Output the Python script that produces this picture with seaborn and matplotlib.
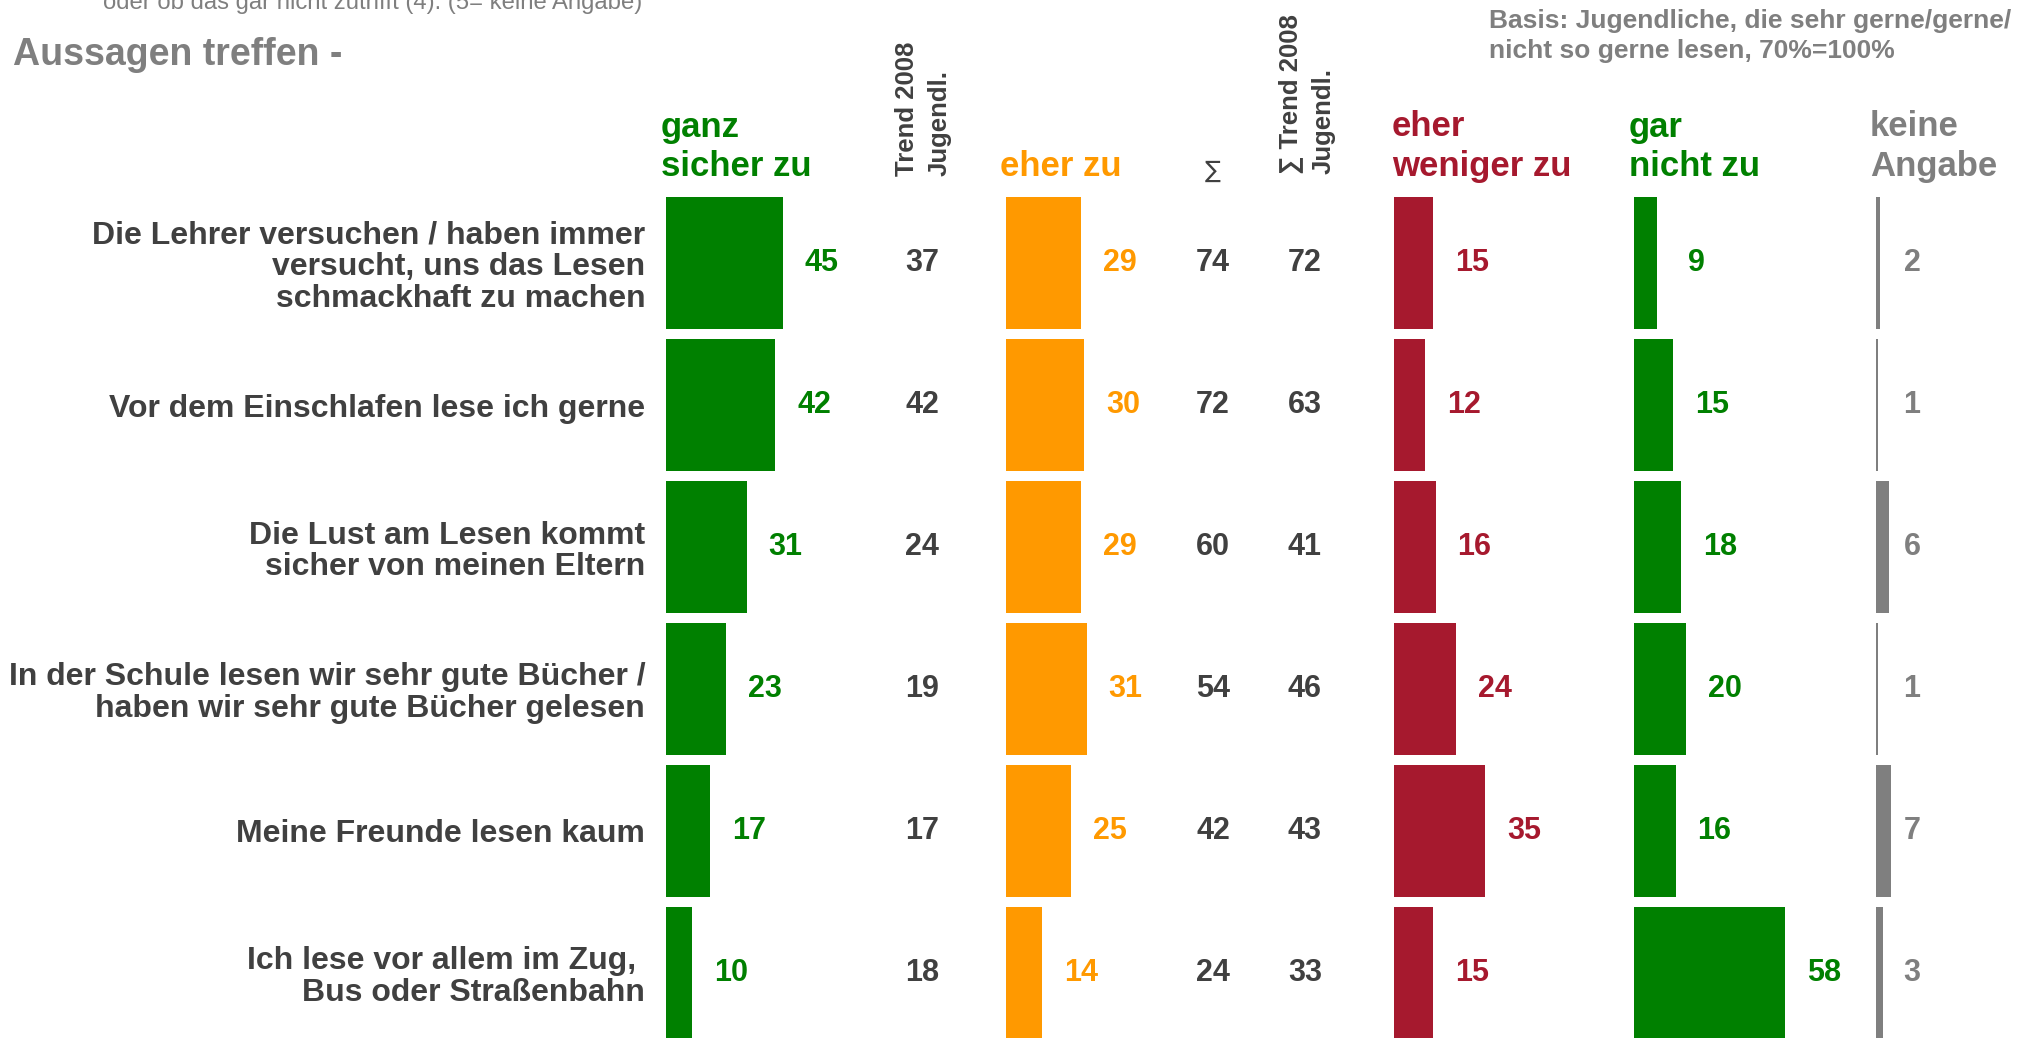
import pandas as pd
import seaborn as sns
import matplotlib.pyplot as plt

# statements (row labels, top to bottom)
aussagen = [
    'Die Lehrer versuchen / haben immer\nversucht, uns das Lesen\nschmackhaft zu machen',
    'Vor dem Einschlafen lese ich gerne',
    'Die Lust am Lesen kommt\nsicher von meinen Eltern',
    'In der Schule lesen wir sehr gute Bücher /\nhaben wir sehr gute Bücher gelesen',
    'Meine Freunde lesen kaum',
    'Ich lese vor allem im Zug, \nBus oder Straßenbahn',
]

ganz_sicher = [45, 42, 31, 23, 17, 10]
trend_ganz = [37, 42, 24, 19, 17, 18]
eher_zu = [29, 30, 29, 31, 25, 14]
summe = [74, 72, 60, 54, 42, 24]
trend_summe = [72, 63, 41, 46, 43, 33]
eher_weniger = [15, 12, 16, 24, 35, 15]
gar_nicht = [9, 15, 18, 20, 16, 58]
keine_angabe = [2, 1, 6, 1, 7, 3]

GREEN = '#008000'
ORANGE = '#FF9900'
RED = '#A6192E'
GREY = '#7F7F7F'
DARK = '#404040'

W, H = 2022, 1038
sns.set_style('white')
plt.rcParams['font.family'] = ['Liberation Sans', 'DejaVu Sans']

df = pd.DataFrame({
    'aussage': aussagen,
    'ganz': ganz_sicher,
    'eher': eher_zu,
    'weniger': eher_weniger,
    'gar': gar_nicht,
    'keine': keine_angabe,
})

fig = plt.figure(figsize=(W / 100, H / 100), dpi=100)

# row slots: 142 px pitch, first slot starts at 192 px from top
slot_top = 192
slot_bot = slot_top + 6 * 142
ax_bottom = 1 - slot_bot / H
ax_height = (slot_bot - slot_top) / H


def bar_column(x_px, width_px, col, color, scale=2.6, labels=True):
    ax = fig.add_axes([x_px / W, ax_bottom, width_px / W, ax_height])
    sns.barplot(data=df, x=col, y='aussage', orient='h', color=color,
                saturation=1, width=0.93, errorbar=None, linewidth=0, ax=ax)
    ax.set_xlim(0, width_px / scale)
    ax.set_ylim(5.5, -0.5)
    sns.despine(ax=ax, left=True, bottom=True)
    ax.set_xlabel('')
    ax.set_ylabel('')
    ax.set_xticks([])
    ax.tick_params(axis='y', length=0)
    ax.patch.set_alpha(0)
    if labels:
        for i, v in enumerate(df[col]):
            ax.annotate(str(v), (v, i), xytext=(28, 0), textcoords='offset points',
                        ha='center', va='center', color=color,
                        fontsize=22, fontweight='bold')
    return ax


ax1 = bar_column(666, 300, 'ganz', GREEN)
ax1.tick_params(axis='y', pad=15)
for lbl in ax1.get_yticklabels():
    lbl.set_fontsize(23)
    lbl.set_fontweight('bold')
    lbl.set_color(DARK)
    lbl.set_linespacing(1.08)

for x0, col, c in [(1006, 'eher', ORANGE), (1394, 'weniger', RED), (1634, 'gar', GREEN)]:
    a = bar_column(x0, 300, col, c)
    a.set_yticklabels([])

ax5 = bar_column(1876, 140, 'keine', GREY, scale=2.2, labels=False)
ax5.set_yticklabels([])

# overlay for the plain number columns
axt = fig.add_axes([0, ax_bottom, 1, ax_height])
axt.set_xlim(0, W)
axt.set_ylim(5.5, -0.5)
axt.axis('off')
for i in range(6):
    axt.text(922, i, str(trend_ganz[i]), ha='center', va='center', color=DARK,
             fontsize=22, fontweight='bold')
    axt.text(1213, i, str(summe[i]), ha='center', va='center', color=DARK,
             fontsize=22, fontweight='bold')
    axt.text(1305, i, str(trend_summe[i]), ha='center', va='center', color=DARK,
             fontsize=22, fontweight='bold')
    axt.text(1912, i, str(keine_angabe[i]), ha='center', va='center', color=GREY,
             fontsize=22, fontweight='bold')


def fx(x):
    return x / W


def fy(y):
    return 1 - y / H


# column headers (anchored at the baseline of the last line)
hdr = dict(fontsize=25, fontweight='bold', va='baseline', ha='left', linespacing=1.25)
fig.text(fx(661), fy(176), 'ganz\nsicher zu', color=GREEN, **hdr)
fig.text(fx(1000), fy(176), 'eher zu', color=ORANGE, **hdr)
fig.text(fx(1392), fy(176), 'eher\nweniger zu', color=RED, **hdr)
fig.text(fx(1629), fy(176), 'gar\nnicht zu', color=GREEN, **hdr)
fig.text(fx(1870), fy(176), 'keine\nAngabe', color=GREY, **hdr)

fig.text(fx(1213), fy(171), '∑', color=DARK, fontsize=17, ha='center', va='center',
         family='DejaVu Sans')

rot = dict(rotation=90, ha='center', va='bottom', fontsize=18.5, fontweight='bold',
           color=DARK, multialignment='left', linespacing=1.43)
fig.text(fx(923), fy(176), 'Trend 2008\nJugendl.', **rot)
fig.text(fx(1307), fy(174), '∑ Trend 2008\nJugendl.', **rot)

# titles / notes
fig.text(fx(103), fy(9), 'oder ob das gar nicht zutrifft (4). (5= keine Angabe)',
         color=GREY, fontsize=17.2, va='baseline', ha='left')
fig.text(fx(13), fy(65), 'Aussagen treffen -', color=GREY, fontsize=27,
         fontweight='bold', va='baseline', ha='left')
fig.text(fx(1489), fy(58), 'Basis: Jugendliche, die sehr gerne/gerne/\nnicht so gerne lesen, 70%=100%',
         color=GREY, fontsize=19, fontweight='bold', va='baseline', ha='left',
         linespacing=1.3)

fig.savefig('out.png', dpi=100)
